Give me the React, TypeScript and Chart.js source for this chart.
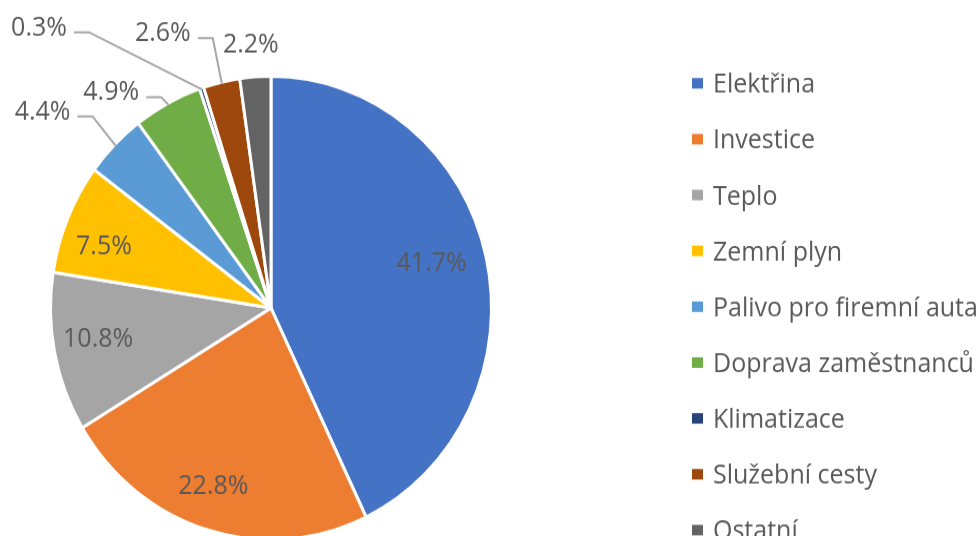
import React, { useEffect, useRef } from 'react';
import { Chart, registerables } from 'chart.js';

Chart.register(...registerables);

const categories = [
  'Elektřina',
  'Investice',
  'Teplo',
  'Zemní plyn',
  'Palivo pro firemní auta',
  'Doprava zaměstnanců',
  'Klimatizace',
  'Služební cesty',
  'Ostatní',
];
const shares = [41.7, 22.8, 10.8, 7.5, 4.4, 4.9, 0.3, 2.6, 2.2];
const sliceColors = ['#4472C4', '#ED7D31', '#A5A5A5', '#FFC000', '#5B9BD5', '#70AD47', '#264478', '#9E480E', '#636363'];

// label placement relative to each slice (radius factor, angle shift in degrees, leader line)
const labelRadius = [0.76, 0.81, 0.8, 0.81, 1.352, 1.193, 1.62, 1.298, 1.156];
const labelShift = [-2.4, 2.3, 1.8, -3.1, -5.3, -9.75, -22.5, -9.4, -0.5];
const labelLeader = [false, false, false, false, true, true, true, true, false];

const W = 979;
const H = 510;
const FULL_H = 536;
const STRETCH = FULL_H / H;
const FONT = '25px "Open Sans"';
const TEXT = '#595959';
const BORDER = 3;
const PIE_R = 219;
const PIE_CX = 271;
const PIE_CY = 308 / STRETCH;
const LEGEND_X = 692;
const LEGEND_TOP = 83.3 / STRETCH;
const LEGEND_STEP = 55.85 / STRETCH;

const pieLabels = {
  id: 'pieLabels',
  afterDatasetsDraw(chart: any) {
    const ctx = chart.ctx as CanvasRenderingContext2D;
    const meta = chart.getDatasetMeta(0);
    ctx.save();
    ctx.font = FONT;
    meta.data.forEach((el: any, i: number) => {
      const p = el.getProps(['x', 'y', 'startAngle', 'endAngle', 'outerRadius'], true);
      const R = p.outerRadius - BORDER / 2;
      const mid = (p.startAngle + p.endAngle) / 2;
      const a = mid + (labelShift[i] * Math.PI) / 180;
      const d = R * labelRadius[i];
      const cx = p.x + Math.cos(a) * d;
      const cy = p.y + Math.sin(a) * d;
      const text = shares[i].toFixed(1) + '%';
      const m = ctx.measureText(text);
      ctx.fillStyle = TEXT;
      ctx.textAlign = 'center';
      ctx.textBaseline = 'alphabetic';
      ctx.fillText(text, cx, cy + (m.actualBoundingBoxAscent - m.actualBoundingBoxDescent) / 2);
      if (labelLeader[i]) {
        const ax = p.x + Math.cos(mid) * R;
        const ay = p.y + Math.sin(mid) * R;
        const ly = cy + 6;
        const x0 = cx + m.width / 2 + 7;
        ctx.beginPath();
        ctx.moveTo(x0, ly);
        ctx.lineTo(x0 + 15, ly);
        ctx.lineTo(ax, ay);
        ctx.strokeStyle = '#A6A6A6';
        ctx.lineWidth = 2;
        ctx.stroke();
      }
    });
    ctx.restore();
  },
};

const sideLegend = {
  id: 'sideLegend',
  afterDraw(chart: any) {
    const ctx = chart.ctx as CanvasRenderingContext2D;
    ctx.save();
    ctx.font = FONT;
    const cap = ctx.measureText('H').actualBoundingBoxAscent;
    const labels = chart.data.labels as string[];
    const colors = chart.data.datasets[0].backgroundColor as string[];
    labels.forEach((lab, i) => {
      const cy = LEGEND_TOP + i * LEGEND_STEP;
      ctx.fillStyle = colors[i];
      ctx.fillRect(LEGEND_X, cy - 5, 11, 10);
      ctx.fillStyle = TEXT;
      ctx.textAlign = 'left';
      ctx.textBaseline = 'alphabetic';
      ctx.fillText(lab, LEGEND_X + 21, cy + cap / 2);
    });
    ctx.restore();
  },
};

export default function App() {
  const ref = useRef<HTMLCanvasElement | null>(null);

  useEffect(() => {
    document.body.style.margin = '0';
    if (!ref.current) return;
    const chart = new Chart(ref.current, {
      type: 'pie',
      data: {
        labels: categories,
        datasets: [
          {
            data: shares,
            backgroundColor: sliceColors,
            borderColor: '#ffffff',
            borderWidth: BORDER,
          },
        ],
      },
      options: {
        animation: false,
        responsive: false,
        events: [],
        radius: PIE_R + BORDER / 2,
        layout: {
          padding: {
            left: 0,
            right: W - 2 * PIE_CX,
            top: 2 * PIE_CY - H,
            bottom: 0,
          },
        },
        plugins: {
          legend: { display: false },
          tooltip: { enabled: false },
        },
      } as any,
      plugins: [pieLabels, sideLegend],
    });
    return () => chart.destroy();
  }, []);

  return (
    <div style={{ width: W, height: FULL_H, overflow: 'hidden', position: 'relative' }}>
      <div
        style={{
          width: W,
          height: H,
          transform: `scaleY(${STRETCH})`,
          transformOrigin: '0 0',
        }}
      >
        <canvas ref={ref} width={W} height={H} style={{ display: 'block', width: W, height: H }} />
      </div>
    </div>
  );
}
